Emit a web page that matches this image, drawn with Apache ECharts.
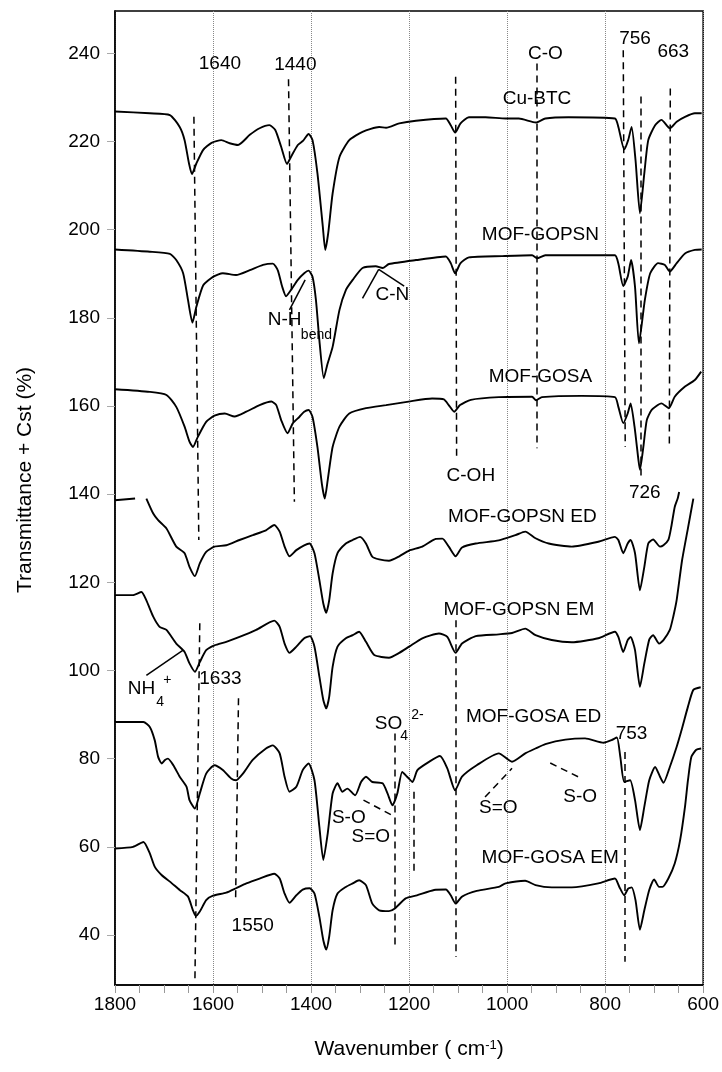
<!DOCTYPE html>
<html>
<head>
<meta charset="utf-8">
<title>FTIR spectra</title>
<script src="https://cdn.jsdelivr.net/npm/echarts@6/dist/echarts.min.js"></script>
<style>
  html, body { margin: 0; padding: 0; background: #fff; }
  #chart { width: 722px; height: 1072px; }
</style>
</head>
<body>
<div id="chart"></div>
<script>
// spectra: [wavenumber, transmittance + offset]
const cuBtc = [[1800,226.8],[1729,226.4],[1688,226.0],[1668,223.3],[1658,220.3],[1649,215.0],[1643,212.6],[1634,215.0],[1620,218.1],[1603,219.7],[1583,220.3],[1566,219.6],[1549,219.2],[1525,221.5],[1505,223.0],[1485,223.7],[1473,222.6],[1461,218.8],[1449,214.9],[1441,216.5],[1427,219.2],[1416,220.2],[1405,221.7],[1397,220.3],[1387,212.8],[1376,200.7],[1371,195.4],[1365,199.2],[1356,208.2],[1342,216.5],[1322,220.3],[1295,222.2],[1261,223.3],[1247,223.1],[1220,224.1],[1186,224.7],[1125,225.2],[1115,223.7],[1106,222.0],[1095,224.1],[1078,225.5],[1044,225.5],[1003,225.2],[976,225.2],[941,224.3],[922,225.2],[875,225.5],[780,225.2],[773,223.3],[761,218.2],[753,220.3],[746,223.3],[738,215.8],[729,203.7],[720,212.8],[712,220.3],[698,223.7],[685,224.9],[668,223.0],[654,224.5],[637,225.6],[617,226.4],[603,226.4]]

const mofGopsn = [[1800,195.5],[1729,195.0],[1688,194.5],[1675,193.1],[1661,190.1],[1651,184.0],[1642,178.9],[1634,182.5],[1620,187.4],[1600,189.3],[1580,190.1],[1553,189.7],[1525,190.8],[1498,192.0],[1478,192.3],[1468,190.8],[1459,187.1],[1451,184.9],[1441,186.3],[1427,188.6],[1414,190.1],[1405,190.7],[1397,189.3],[1390,184.0],[1383,174.9],[1374,166.3],[1367,169.3],[1356,173.4],[1342,181.8],[1329,186.3],[1315,188.6],[1295,191.3],[1268,191.7],[1254,191.3],[1241,192.2],[1186,193.1],[1125,193.9],[1115,192.4],[1106,190.1],[1095,192.4],[1078,193.7],[1010,194.0],[949,194.2],[939,193.5],[922,194.2],[780,194.2],[773,192.3],[763,187.2],[754,189.3],[747,193.1],[739,187.0],[731,174.2],[719,184.0],[708,190.1],[692,192.4],[678,192.0],[668,190.5],[654,192.4],[637,194.6],[617,195.4],[603,195.5]]

const mofGosa = [[1800,163.8],[1729,163.2],[1695,162.5],[1675,159.8],[1658,155.3],[1648,151.9],[1641,150.7],[1631,153.0],[1614,156.4],[1597,157.8],[1576,158.3],[1556,157.6],[1532,158.7],[1505,160.2],[1481,161.0],[1471,160.2],[1461,156.8],[1448,153.8],[1437,156.1],[1424,157.5],[1414,158.7],[1405,159.1],[1397,157.5],[1387,150.7],[1378,142.4],[1372,139.0],[1366,143.2],[1356,150.7],[1342,155.3],[1322,158.3],[1288,159.5],[1247,160.2],[1201,161.0],[1153,161.7],[1129,161.5],[1119,160.2],[1108,158.7],[1096,160.2],[1074,161.4],[1017,162.0],[949,162.1],[941,161.3],[929,162.0],[848,162.3],[780,162.0],[773,159.8],[763,156.1],[754,158.3],[748,160.6],[740,155.3],[732,147.7],[729,145.5],[722,150.7],[715,156.8],[705,159.1],[685,160.6],[670,159.5],[658,162.1],[637,164.4],[617,165.9],[604,167.8]]

const mofGopsnEd = [[1800,138.6],[1759,139.0],[1748,null],[1736,139.0],[1722,135.6],[1712,134.1],[1695,132.2],[1675,128.1],[1658,126.6],[1648,123.5],[1637,121.4],[1627,124.3],[1614,126.9],[1597,128.1],[1573,128.4],[1546,129.6],[1519,130.7],[1492,131.8],[1475,133.0],[1464,131.5],[1454,128.1],[1444,125.9],[1430,127.3],[1414,128.4],[1403,128.8],[1393,126.6],[1383,120.5],[1375,115.2],[1369,113.1],[1363,115.9],[1356,122.0],[1346,126.6],[1329,128.8],[1315,129.6],[1300,130.3],[1288,128.8],[1275,125.8],[1261,125.2],[1241,124.9],[1220,125.9],[1200,127.2],[1173,128.1],[1147,129.8],[1132,129.9],[1119,128.1],[1105,125.9],[1092,127.9],[1064,128.8],[1017,129.5],[983,130.7],[963,131.5],[942,130.0],[915,128.8],[868,128.1],[814,129.2],[780,130.3],[773,129.6],[763,126.6],[754,128.8],[748,129.6],[739,126.6],[729,118.2],[720,123.5],[712,128.8],[702,129.7],[688,128.1],[681,128.4],[671,129.6],[665,132.6],[658,137.1],[652,139.0],[649,140.5]]

const mofGopsnEm = [[1800,117.1],[1763,117.1],[1746,117.8],[1736,115.9],[1722,112.2],[1709,109.9],[1695,109.2],[1675,106.1],[1658,104.2],[1648,101.6],[1637,99.7],[1627,101.9],[1614,104.6],[1597,105.7],[1573,106.5],[1546,107.6],[1512,109.2],[1475,111.3],[1464,109.9],[1454,106.1],[1444,104.0],[1430,105.4],[1414,107.3],[1402,107.8],[1393,105.4],[1383,98.6],[1375,93.3],[1369,91.4],[1363,94.0],[1356,100.8],[1346,105.4],[1329,107.3],[1315,108.0],[1302,108.8],[1288,106.5],[1271,103.5],[1241,102.9],[1220,104.0],[1200,105.4],[1173,107.3],[1139,108.4],[1122,107.6],[1105,104.0],[1092,106.1],[1064,107.8],[1017,108.2],[990,108.5],[963,109.5],[942,108.0],[909,106.9],[868,106.4],[814,107.3],[780,108.8],[773,107.6],[763,104.2],[754,106.9],[748,107.6],[739,104.6],[729,96.3],[720,101.6],[710,107.0],[702,108.0],[690,106.1],[681,106.9],[668,109.2],[661,112.2],[654,116.0],[643,125.0],[631,132.3],[620,139.0]]

const mofGosaEd = [[1800,88.3],[1742,88.3],[1729,87.2],[1719,84.2],[1712,80.4],[1705,78.9],[1698,79.7],[1692,80.0],[1681,78.5],[1668,75.9],[1654,73.6],[1648,70.6],[1637,68.7],[1627,72.1],[1614,76.6],[1597,78.5],[1580,77.4],[1563,75.5],[1553,75.1],[1539,76.6],[1519,79.7],[1492,82.3],[1478,83.0],[1464,81.2],[1454,75.9],[1444,72.5],[1430,73.6],[1417,77.4],[1405,78.9],[1393,75.1],[1383,64.5],[1375,57.0],[1366,63.0],[1356,72.1],[1346,74.4],[1336,72.5],[1326,73.2],[1310,71.7],[1298,74.7],[1288,75.9],[1275,74.7],[1254,74.4],[1244,72.1],[1234,69.4],[1224,72.1],[1214,77.0],[1204,75.9],[1193,74.7],[1183,77.4],[1159,79.3],[1137,80.6],[1122,77.8],[1106,72.8],[1092,75.9],[1062,78.5],[1017,81.2],[990,79.3],[963,81.2],[942,82.3],[922,83.3],[881,84.3],[841,84.6],[803,83.6],[787,84.2],[776,84.8],[769,80.4],[761,74.7],[749,75.1],[739,70.6],[729,63.8],[720,69.1],[710,75.1],[698,78.1],[688,75.9],[681,74.5],[668,78.1],[654,82.7],[644,86.5],[631,91.8],[620,95.6],[605,96.2]]

const mofGosaEm = [[1800,59.6],[1763,60.0],[1742,61.1],[1729,58.5],[1719,55.5],[1705,53.6],[1688,52.1],[1668,50.2],[1651,48.7],[1641,45.6],[1635,44.3],[1627,45.3],[1614,47.9],[1600,48.9],[1573,49.6],[1553,50.6],[1532,51.7],[1505,52.8],[1475,53.9],[1464,52.8],[1454,49.4],[1444,47.3],[1430,49.0],[1417,50.3],[1403,50.6],[1393,49.4],[1383,44.1],[1375,38.8],[1369,36.7],[1363,39.6],[1356,45.6],[1346,49.4],[1329,50.9],[1315,51.7],[1302,52.4],[1288,51.3],[1275,47.1],[1261,45.6],[1241,45.4],[1229,46.0],[1207,48.3],[1184,49.0],[1149,50.2],[1125,50.3],[1115,49.0],[1105,47.1],[1092,48.7],[1062,50.0],[1017,50.9],[1003,51.7],[963,52.3],[942,51.3],[909,50.8],[868,50.8],[814,51.7],[780,52.8],[771,50.9],[761,49.0],[753,50.5],[746,50.8],[738,47.9],[729,41.2],[720,45.6],[710,50.2],[700,52.6],[690,50.9],[683,50.9],[671,52.8],[658,56.2],[647,61.5],[637,69.1],[631,75.1],[624,80.4],[614,82.0],[604,82.3]]

const yTicks = [40, 60, 80, 100, 120, 140, 160, 180, 200, 220, 240]

// dashed peak markers: [wn1, y1, wn2, y2]
const dashLines = [
  [1639, 225.6, 1629, 129.6],
  [1627, 110.7, 1637, 29.3],
  [1446, 234.1, 1434, 138.3],
  [1548, 93.7, 1554, 47.5],
  [1105, 234.7, 1103, 147.7],
  [1105, 111.4, 1105, 35.0],
  [939, 237.7, 939, 150.4],
  [763, 240.7, 759, 150.7],
  [727, 230.2, 727, 143.2],
  [667, 232.0, 669, 150.4],
  [1229, 85.7, 1229, 37.3],
  [1191, 72.5, 1191, 53.9],
  [759, 81.5, 759, 33.9],
  [1293, 70.6, 1229, 66.8],
  [1045, 71.3, 990, 77.8],
  [912, 79.0, 848, 75.5],
]

// solid pointer lines
const pointerLines = [
  [1444, 181.8, 1412, 188.6],
  [1295, 184.4, 1262, 191.0],
  [1262, 191.0, 1210, 187.2],
  [1736, 98.9, 1661, 104.6],
]

// text annotations: [text, wn, y]
const labels = [
  ['1640', 1586, 237.7], ['1440', 1432, 237.4], ['C-O', 922, 240.0],
  ['756', 739, 243.4], ['663', 661, 240.4], ['Cu-BTC', 939, 229.8],
  ['MOF-GOPSN', 932, 198.8], ['N-H', 1454, 179.5], ['C-N', 1234, 185.2],
  ['MOF-GOSA', 932, 166.6], ['C-OH', 1074, 144.1], ['726', 719, 140.2],
  ['MOF-GOPSN ED', 969, 134.9], ['MOF-GOPSN EM', 976, 113.7], ['NH', 1746, 95.9],
  ['1633', 1585, 98.2], ['SO', 1242, 87.8], ['MOF-GOSA ED', 946, 89.5],
  ['753', 746, 85.7], ['S-O', 1323, 66.7], ['S=O', 1278, 62.3],
  ['S=O', 1018, 68.9], ['S-O', 851, 71.3], ['MOF-GOSA EM', 912, 57.4],
  ['1550', 1519, 42.2],
]
// small sub / superscripts
const smallLabels = [
  ['bend', 1389, 176.1], ['4', 1708, 92.9], ['+', 1693, 97.8],
  ['4', 1210, 85.0], ['2-', 1183, 89.9],
]

const font = 'Liberation Sans, Arial, sans-serif'

const chart = echarts.init(document.getElementById('chart'))

function curve(data) {
  return {
    type: 'line',
    data: data,
    showSymbol: false,
    smooth: 0.2,
    connectNulls: false,
    lineStyle: { color: '#000', width: 1.9 },
    silent: true,
  }
}

function segs(list) {
  return list.map(s => [{ coord: [s[0], s[1]] }, { coord: [s[2], s[3]] }])
}

chart.setOption({
  animation: false,
  textStyle: { fontFamily: font },
  grid: {
    left: 115, right: 18, top: 11, bottom: 87,
    show: true, borderColor: '#000', borderWidth: 1.5,
  },
  xAxis: {
    type: 'value',
    inverse: true,
    min: 600,
    max: 1800,
    interval: 200,
    name: 'Wavenumber ( cm{sup|-1})',
    nameLocation: 'middle',
    nameGap: 54,
    nameTextStyle: {
      fontSize: 21, color: '#000', fontFamily: font,
      rich: { sup: { fontSize: 13, verticalAlign: 'top', color: '#000', fontFamily: font } },
    },
    axisLine: { lineStyle: { color: '#000', width: 1.5 } },
    axisTick: { length: 8, lineStyle: { color: '#999' } },
    minorTick: { show: true, splitNumber: 4, length: 8, lineStyle: { color: '#999' } },
    axisLabel: {
      fontSize: 19, color: '#000', margin: 10, fontFamily: font,
      formatter: v => String(v),
    },
    splitLine: { show: true, lineStyle: { color: '#888', type: 'dotted', width: 1 } },
  },
  yAxis: {
    type: 'value',
    min: 28.65,
    max: 249.6,
    axisLine: { show: true, lineStyle: { color: '#000', width: 1.5 } },
    axisTick: { show: true, length: 8, customValues: yTicks, lineStyle: { color: '#aaa' } },
    axisLabel: {
      fontSize: 19, color: '#000', margin: 15, customValues: yTicks, fontFamily: font,
      formatter: v => String(v),
    },
    splitLine: { show: false },
  },
  series: [
    curve(cuBtc),
    curve(mofGopsn),
    curve(mofGosa),
    curve(mofGopsnEd),
    curve(mofGopsnEm),
    curve(mofGosaEd),
    curve(mofGosaEm),
    {
      type: 'line',
      data: [],
      markLine: {
        silent: true,
        symbol: 'none',
        label: { show: false },
        lineStyle: { color: '#000', type: [7, 5], width: 1.5 },
        data: segs(dashLines),
      },
    },
    {
      type: 'line',
      data: [],
      markLine: {
        silent: true,
        symbol: 'none',
        label: { show: false },
        lineStyle: { color: '#000', type: 'solid', width: 1.5 },
        data: segs(pointerLines),
      },
    },
  ],
})

// annotation texts placed through the axes
const texts = []
labels.forEach(l => {
  const p = chart.convertToPixel({ xAxisIndex: 0, yAxisIndex: 0 }, [l[1], l[2]])
  texts.push({
    type: 'text', x: p[0], y: p[1], silent: true,
    style: { text: l[0], fill: '#000', fontSize: 19, fontFamily: font, align: 'center', verticalAlign: 'middle' },
  })
})
smallLabels.forEach(l => {
  const p = chart.convertToPixel({ xAxisIndex: 0, yAxisIndex: 0 }, [l[1], l[2]])
  texts.push({
    type: 'text', x: p[0], y: p[1], silent: true,
    style: { text: l[0], fill: '#000', fontSize: 14, fontFamily: font, align: 'center', verticalAlign: 'middle' },
  })
})
// y axis title
texts.push({
  type: 'text', x: 25, y: 480, rotation: Math.PI / 2, silent: true,
  style: { text: 'Transmittance + Cst (%)', fill: '#000', fontSize: 21, fontFamily: font, align: 'center', verticalAlign: 'middle' },
})

chart.setOption({ graphic: texts })
</script>
</body>
</html>
